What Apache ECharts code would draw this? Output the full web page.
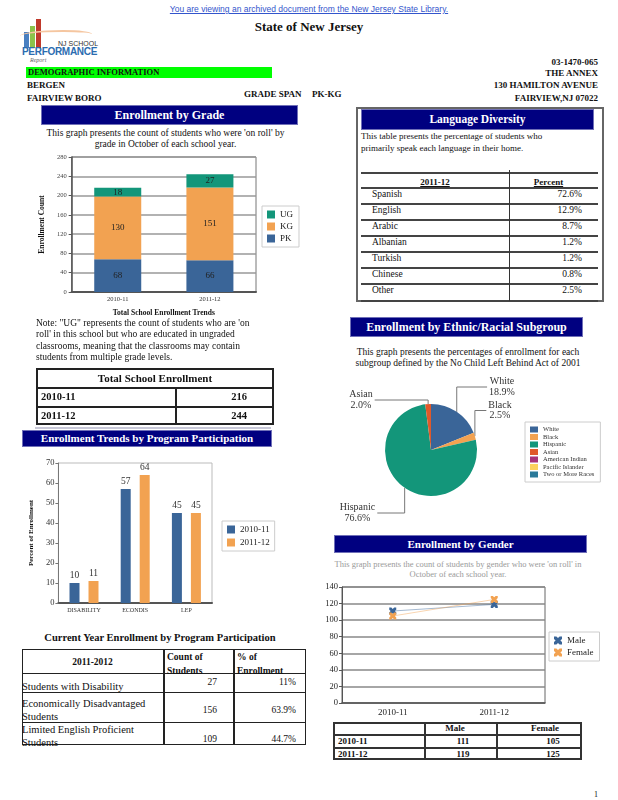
<!DOCTYPE html>
<html><head><meta charset="utf-8">
<script src="https://cdn.jsdelivr.net/npm/echarts@6/dist/echarts.min.js"></script>
<style>
body{margin:0;background:#fff;}
#page{position:relative;width:618px;height:800px;overflow:hidden;font-family:"Liberation Serif","Times New Roman",serif;color:#111;background:#fff;}
.a{position:absolute;white-space:nowrap;line-height:1;}
.b{font-weight:bold;}
.hdr{position:absolute;background:#000080;color:#fff;font-weight:bold;text-align:center;border:1px solid #7070b8;box-sizing:border-box;}
.ch{position:absolute;}
</style></head><body><div id="page">
<div class="a" style="left:0;width:618px;text-align:center;top:5px;font-family:'Liberation Sans',Arial,sans-serif;font-size:8.5px;color:#3355cc;text-decoration:underline;">You are viewing an archived document from the New Jersey State Library.</div>
<!-- logo -->
<div class="a" style="left:24px;top:32px;width:5px;height:16px;background:#4a7fc0;"></div>
<div class="a" style="left:30px;top:26px;width:5px;height:22px;background:#8cc24a;"></div>
<div class="a" style="left:36px;top:19px;width:5px;height:29px;background:#c0392b;"></div>
<div class="a" style="left:20px;top:30px;width:72px;height:8px;border-top:2px solid #f5c6a0;border-radius:60% 40% 0 0;"></div>
<div class="a" style="left:58px;top:40px;font-family:'Liberation Sans',Arial,sans-serif;font-size:7px;color:#333;">NJ SCHOOL</div>
<div class="a b" style="left:22px;top:47px;font-family:'Liberation Sans',Arial,sans-serif;font-size:10px;color:#2b6cb0;letter-spacing:-0.3px;">PERFORMANCE</div>
<div class="a" style="left:30px;top:57px;font-size:6px;font-style:italic;color:#666;">Report</div>

<div class="a b" style="left:0;width:618px;text-align:center;top:20px;font-size:13px;">State of New Jersey</div>
<div class="a b" style="right:20px;top:57.5px;font-size:9px;">03-1470-065</div>
<div class="a b" style="left:26px;top:67px;width:246px;height:11px;background:#00ff00;font-size:8.5px;line-height:11px;padding-left:2px;box-sizing:border-box;">DEMOGRAPHIC INFORMATION</div>
<div class="a b" style="right:20px;top:68.5px;font-size:9px;">THE ANNEX</div>
<div class="a b" style="left:27px;top:80.5px;font-size:9px;">BERGEN</div>
<div class="a b" style="right:20px;top:80.5px;font-size:9px;">130 HAMILTON AVENUE</div>
<div class="a b" style="left:27px;top:93.5px;font-size:9px;">FAIRVIEW BORO</div>
<div class="a b" style="left:244px;top:89.5px;font-size:9px;">GRADE SPAN</div>
<div class="a b" style="left:312px;top:89.5px;font-size:9px;">PK-KG</div>
<div class="a b" style="right:20px;top:93.5px;font-size:9px;">FAIRVIEW,NJ 07022</div>

<!-- Enrollment by grade -->
<div class="hdr" style="left:41px;top:105px;width:257px;height:20px;font-size:12px;line-height:18px;">Enrollment by Grade</div>
<div class="a" style="left:40px;width:251px;text-align:center;top:128px;font-size:9.5px;line-height:11px;">This graph presents the count of students who were 'on roll' by<br>grade in October of each school year.</div>
<div id="c1" class="ch" style="left:30px;top:150px;width:280px;height:172px;"></div>
<div class="a" style="left:36px;top:318px;font-size:9.5px;line-height:11.3px;">Note: "UG" represents the count of students who are 'on<br>roll' in this school but who are educated in ungraded<br>classrooms, meaning that the classrooms may contain<br>students from multiple grade levels.</div>
<div class="a" style="left:35px;top:427px;width:236px;height:2px;background:#c8c8d8;"></div>

<!-- Program participation -->
<div class="hdr" style="left:22px;top:430px;width:250px;height:17px;font-size:11px;line-height:15px;">Enrollment Trends by Program Participation</div>
<div id="c2" class="ch" style="left:20px;top:450px;width:260px;height:170px;"></div>
<div class="a b" style="left:0;width:320px;text-align:center;top:632.5px;font-size:10.5px;">Current Year Enrollment by Program Participation</div>

<!-- Language -->
<div class="a" style="left:356px;top:107px;width:248px;height:195px;border:2px solid #666;box-sizing:border-box;"></div>
<div class="hdr" style="left:361px;top:109px;width:233px;height:21px;font-size:11.5px;line-height:19px;">Language Diversity</div>
<div class="a" style="left:361px;top:130px;font-size:9px;line-height:12px;">This table presents the percentage of students who<br>primarily speak each language in their home.</div>

<!-- Ethnic -->
<div class="hdr" style="left:350px;top:317px;width:233px;height:20px;font-size:12px;line-height:18px;">Enrollment by Ethnic/Racial Subgroup</div>
<div class="a" style="left:340px;width:256px;text-align:center;top:346.5px;font-size:9.5px;line-height:11px;">This graph presents the percentages of enrollment for each<br>subgroup defined by the No Child Left Behind Act of 2001</div>
<div id="c3" class="ch" style="left:335px;top:370px;width:283px;height:160px;"></div>

<!-- Gender -->
<div class="hdr" style="left:334px;top:535px;width:253px;height:18px;font-size:11px;line-height:16px;">Enrollment by Gender</div>
<div class="a" style="left:330px;width:256px;text-align:center;top:559px;font-size:8.5px;line-height:10px;color:#9a9a9a;">This graph presents the count of students by gender who were 'on roll' in<br>October of each school year.</div>
<div id="c4" class="ch" style="left:315px;top:580px;width:300px;height:140px;"></div>

<div class="a" style="left:594px;top:791px;font-size:8px;">1</div>
</div>
<script>
// ---------- data ----------
const gradeYears = ['2010-11', '2011-12'];
const gradePK = [68, 66];
const gradeKG = [130, 151];
const gradeUG = [18, 27];
const gradeTicks = [0, 280, 40];

const totalYears = ['2010-11', '2011-12'];
const totalEnroll = [216, 244];

const programCats = ['DISABILITY', 'ECONDIS', 'LEP'];
const program2010 = [10, 57, 45];
const program2011 = [11, 64, 45];
const programTicks = [0, 70, 10];

const progRows = [['Students with Disability'], ['Economically Disadvantaged', 'Students'], ['Limited English Proficient', 'Students']];
const progCount = [27, 156, 109];
const progPct = ['11%', '63.9%', '44.7%'];

const languages = ['Spanish', 'English', 'Arabic', 'Albanian', 'Turkish', 'Chinese', 'Other'];
const languagePct = ['72.6%', '12.9%', '8.7%', '1.2%', '1.2%', '0.8%', '2.5%'];

const ethnicNames = ['White', 'Black', 'Hispanic', 'Asian', 'American Indian', 'Pacific Islander', 'Two or More Races'];
const ethnicValues = [18.9, 2.5, 76.6, 2.0, 0, 0, 0];

const genderYears = ['2010-11', '2011-12'];
const genderMale = [111, 119];
const genderFemale = [105, 125];
const genderTicks = [0, 140, 20];

// ---------- helpers ----------
const page = document.getElementById('page');
function box(css, html) { const d = document.createElement('div'); d.className = 'a'; d.style.cssText = css; if (html !== undefined) d.innerHTML = html; page.appendChild(d); return d; }
function line(x, y, w, h, c) { box(`left:${x}px;top:${y}px;width:${w}px;height:${h}px;background:${c || '#333'};`); }
const FF = '"Liberation Serif","Times New Roman",serif';
const BLUE = '#3a6598', ORANGE = '#f2a251', GREEN = '#13967a';

// ---------- total table ----------
(function () {
  const L = 36, R = 274, T = 368, ys = [368, 388, 407, 425];
  box(`left:${L}px;top:${T}px;width:${R - L}px;height:${ys[3] - T}px;border:2px solid #222;box-sizing:border-box;`);
  line(L, ys[1] - 1, R - L, 2, '#222'); line(L, ys[2] - 1, R - L, 2, '#222');
  line(175, ys[1], 2, ys[3] - ys[1], '#222');
  box(`left:${L}px;width:${R - L}px;text-align:center;top:373px;font-size:11px;font-weight:bold;`, 'Total School Enrollment');
  totalYears.forEach((y, i) => {
    const cy = (ys[i + 1] + ys[i + 2]) / 2;
    box(`left:41px;top:${cy - 5.5}px;font-size:10.5px;font-weight:bold;`, y);
    box(`right:${618 - 247}px;top:${cy - 5.5}px;font-size:10.5px;font-weight:bold;`, totalEnroll[i]);
  });
})();

// ---------- program table ----------
(function () {
  const L = 22, R = 306, T = 649, B = 745, ys = [649, 673, 692, 722, 745];
  box(`left:${L}px;top:${T}px;width:${R - L}px;height:${B - T}px;border:1.5px solid #222;box-sizing:border-box;`);
  [673, 692, 722].forEach(y => line(L, y - 0.5, R - L, 1.5, '#222'));
  [163, 233].forEach(x => line(x, T, 1.5, B - T, '#222'));
  box(`left:${L}px;width:${163 - L}px;text-align:center;top:658px;font-size:9.5px;font-weight:bold;`, '2011-2012');
  box(`left:167px;top:650px;font-size:9.5px;font-weight:bold;line-height:14px;`, 'Count of<br>Students');
  box(`left:237px;top:650px;font-size:9.5px;font-weight:bold;line-height:14px;`, '% of<br>Enrollment');
  const valY = [683, 711, 740];
  const txtTop = [680, 697, 723];
  progRows.forEach((r, i) => {
    box(`left:22px;top:${txtTop[i]}px;font-size:10.5px;line-height:13px;`, r.join('<br>'));
    box(`right:${618 - 217}px;top:${valY[i] - 5}px;font-size:9.5px;`, progCount[i]);
    box(`right:${618 - 296}px;top:${valY[i] - 5}px;font-size:9.5px;`, progPct[i]);
  });
})();

// ---------- language table ----------
(function () {
  const L = 361, R = 598, ys = [172.7, 188.3, 204, 220, 236, 252, 268, 284, 300.7];
  ys.forEach(y => line(L, y - 1, R - L, 2, '#444'));
  line(508.5, 170, 1.5, 131, '#333');
  box(`left:${L}px;width:${509 - L}px;text-align:center;top:177.5px;font-size:9px;font-weight:bold;text-decoration:underline;`, '2011-12');
  box(`left:509px;width:${R - 509 - 10}px;text-align:center;top:177.5px;font-size:9px;font-weight:bold;text-decoration:underline;`, 'Percent');
  languages.forEach((n, i) => {
    const cy = ys[i + 1] + 7;
    box(`left:372px;top:${cy - 5}px;font-size:9.5px;`, n);
    box(`right:${618 - 582}px;top:${cy - 5}px;font-size:9.5px;`, languagePct[i]);
  });
})();

// ---------- gender table ----------
(function () {
  const L = 333, R = 582, ys = [722, 735, 748, 760], xs = [425, 497];
  box(`left:${L}px;top:${ys[0]}px;width:${R - L}px;height:${ys[3] - ys[0]}px;border:2px solid #333;box-sizing:border-box;`);
  line(L, ys[1] - 1, R - L, 2, '#333'); line(L, ys[2] - 1, R - L, 2, '#333');
  xs.forEach(x => line(x - 1, ys[0], 2, ys[3] - ys[0], '#333'));
  box(`left:425px;width:60px;text-align:center;top:723.5px;font-size:9px;font-weight:bold;`, 'Male');
  box(`left:515px;width:60px;text-align:center;top:723.5px;font-size:9px;font-weight:bold;`, 'Female');
  genderYears.forEach((y, i) => {
    const cy = (ys[i + 1] + ys[i + 2]) / 2;
    box(`left:338px;top:${cy - 4.5}px;font-size:9px;font-weight:bold;`, y);
    box(`left:433px;width:60px;text-align:center;top:${cy - 4.5}px;font-size:9px;font-weight:bold;`, genderMale[i]);
    box(`left:523px;width:60px;text-align:center;top:${cy - 4.5}px;font-size:9px;font-weight:bold;`, genderFemale[i]);
  });
})();

// ---------- chart 1: enrollment by grade ----------
const c1 = echarts.init(document.getElementById('c1'));
const lblIn = { show: true, position: 'inside', fontSize: 9, color: '#222', fontFamily: FF };
c1.setOption({
  animation: false,
  textStyle: { fontFamily: FF },
  grid: { left: 41, top: 7, width: 185, height: 136, show: true, borderColor: '#777', borderWidth: 1 },
  legend: {
    orient: 'vertical', left: 232, top: 56, data: ['UG', 'KG', 'PK'], icon: 'rect',
    itemWidth: 8, itemHeight: 8, itemGap: 3, padding: [4, 6, 4, 5],
    borderColor: '#ccc', borderWidth: 1, textStyle: { fontSize: 9, color: '#222', fontFamily: FF }
  },
  xAxis: {
    type: 'category', data: gradeYears,
    axisLine: { lineStyle: { color: '#555', width: 2 } }, axisTick: { show: false },
    axisLabel: { fontSize: 6.5, color: '#333', margin: 4 },
    name: 'Total School Enrollment Trends', nameLocation: 'middle', nameGap: 17,
    nameTextStyle: { fontSize: 7.5, fontWeight: 'bold', color: '#111' }
  },
  yAxis: {
    type: 'value', min: gradeTicks[0], max: gradeTicks[1], interval: gradeTicks[2],
    axisLine: { show: true, lineStyle: { color: '#555', width: 1.5 } },
    axisTick: { show: true, length: 3, lineStyle: { color: '#555' } },
    axisLabel: { fontSize: 6.5, color: '#444', margin: 5 },
    splitLine: { lineStyle: { color: '#999', width: 1.5 } },
    name: 'Enrollment Count', nameLocation: 'middle', nameGap: 14,
    nameTextStyle: { fontSize: 7.5, fontWeight: 'bold', color: '#111' }
  },
  series: [
    { name: 'PK', type: 'bar', stack: 'g', barWidth: 47, data: gradePK, itemStyle: { color: BLUE }, label: lblIn },
    { name: 'KG', type: 'bar', stack: 'g', barWidth: 47, data: gradeKG, itemStyle: { color: ORANGE }, label: lblIn },
    { name: 'UG', type: 'bar', stack: 'g', barWidth: 47, data: gradeUG, itemStyle: { color: GREEN }, label: lblIn }
  ]
});

// ---------- chart 2: program participation ----------
const c2 = echarts.init(document.getElementById('c2'));
const lblTop = { show: true, position: 'top', fontSize: 9.5, color: '#333', fontFamily: FF, distance: 3 };
c2.setOption({
  animation: false,
  textStyle: { fontFamily: FF },
  grid: { left: 37, top: 13, width: 155, height: 140, show: true, borderColor: '#bbb', borderWidth: 1 },
  legend: {
    orient: 'vertical', left: 202, top: 71, icon: 'rect',
    itemWidth: 8, itemHeight: 8, itemGap: 4, padding: [4, 5, 4, 5],
    borderColor: '#ccc', borderWidth: 1, textStyle: { fontSize: 9, color: '#222', fontFamily: FF }
  },
  xAxis: {
    type: 'category', data: programCats,
    axisLine: { lineStyle: { color: '#555', width: 2 } }, axisTick: { show: false },
    axisLabel: { fontSize: 6, color: '#333', margin: 4 }
  },
  yAxis: {
    type: 'value', min: programTicks[0], max: programTicks[1], interval: programTicks[2],
    axisLine: { show: true, lineStyle: { color: '#777', width: 1 } },
    axisTick: { show: true, length: 3, lineStyle: { color: '#777' } },
    axisLabel: { fontSize: 8.5, color: '#333', margin: 4 },
    splitLine: { show: false },
    name: 'Percent of Enrollment', nameLocation: 'middle', nameGap: 15,
    nameTextStyle: { fontSize: 7, fontWeight: 'bold', color: '#111' }
  },
  series: [
    { name: '2010-11', type: 'bar', barWidth: 10, barGap: '90%', data: program2010, itemStyle: { color: BLUE }, label: lblTop },
    { name: '2011-12', type: 'bar', barWidth: 10, barGap: '90%', data: program2011, itemStyle: { color: ORANGE }, label: lblTop }
  ]
});

// ---------- chart 3: ethnic pie ----------
const c3 = echarts.init(document.getElementById('c3'));
const ethColors = [BLUE, ORANGE, GREEN, '#e0592a', '#a8347a', '#fcd15e', '#2b7a9a'];
// label anchor (center x, center y) and side the leader line arrives from
const labelPos = { White: [167, 17, 'l'], Black: [165, 40.5, 'l'], Asian: [26, 30, 'r'], Hispanic: [22.5, 143, 'r'] };
c3.setOption({
  animation: false,
  textStyle: { fontFamily: FF },
  color: ethColors,
  legend: {
    orient: 'vertical', left: 190, top: 52, data: ethnicNames, icon: 'rect',
    itemWidth: 8, itemHeight: 6, itemGap: 0.5, padding: [4, 6, 4, 5],
    borderColor: '#ccc', borderWidth: 1, textStyle: { fontSize: 6.5, color: '#333', fontFamily: FF }
  },
  series: [{
    type: 'pie', center: [96, 80], radius: 46, startAngle: 90, clockwise: true,
    data: ethnicNames.map((n, i) => ethnicValues[i] > 0
      ? { name: n, value: ethnicValues[i] }
      : { name: n, value: 0, label: { show: false }, labelLine: { show: false } }),
    label: { show: true, fontSize: 10, color: '#333', fontFamily: FF, lineHeight: 10.5, align: 'center',
      formatter: p => p.name + '\n' + p.value.toFixed(1) + '%' },
    labelLine: { show: true, length: 10, length2: 20, lineStyle: { color: '#777', width: 1 } },
    labelLayout: p => {
      const name = ethnicNames[p.dataIndex];
      const pos = labelPos[name];
      if (!pos || !p.labelLinePoints) return {};
      const p0 = p.labelLinePoints[0];
      const hw = p.labelRect.width / 2 + 2;
      const endX = pos[2] === 'l' ? pos[0] - hw : pos[0] + hw;
      return {
        x: pos[0], y: pos[1], align: 'center', verticalAlign: 'middle',
        labelLinePoints: [[p0[0], p0[1]], [p0[0], pos[1]], [endX, pos[1]]]
      };
    }
  }]
});

// ---------- chart 4: gender ----------
const c4 = echarts.init(document.getElementById('c4'));
const X = 'path://M0,0 L3,0 5,2 7,0 10,0 10,3 8,5 10,7 10,10 7,10 5,8 3,10 0,10 0,7 2,5 0,3Z';
c4.setOption({
  animation: false,
  textStyle: { fontFamily: FF },
  grid: { left: 27, top: 7, width: 203, height: 116, show: true, borderColor: '#666', borderWidth: 1 },
  legend: {
    orient: 'vertical', left: 234, top: 52,
    itemWidth: 8, itemHeight: 8, itemGap: 3, padding: [4, 6, 4, 5],
    borderColor: '#ccc', borderWidth: 1, textStyle: { fontSize: 9, color: '#222', fontFamily: FF },
    data: [{ name: 'Male', icon: X }, { name: 'Female', icon: X }]
  },
  xAxis: {
    type: 'category', data: genderYears,
    axisLine: { lineStyle: { color: '#555', width: 1.5 } }, axisTick: { show: false },
    axisLabel: { fontSize: 9, color: '#222', margin: 5 }
  },
  yAxis: {
    type: 'value', min: genderTicks[0], max: genderTicks[1], interval: genderTicks[2],
    axisLine: { show: true, lineStyle: { color: '#555' } }, axisTick: { show: true, length: 3 },
    axisLabel: { fontSize: 8.5, color: '#222', margin: 4 },
    splitLine: { lineStyle: { color: '#888', width: 1.5 } }
  },
  series: [
    { name: 'Male', type: 'line', data: genderMale, symbol: X, symbolSize: 7, color: BLUE,
      lineStyle: { width: 1, opacity: 0.45 }, itemStyle: { color: BLUE } },
    { name: 'Female', type: 'line', data: genderFemale, symbol: X, symbolSize: 7, color: ORANGE,
      lineStyle: { width: 1, opacity: 0.45 }, itemStyle: { color: ORANGE } }
  ]
});
</script>
</body></html>
